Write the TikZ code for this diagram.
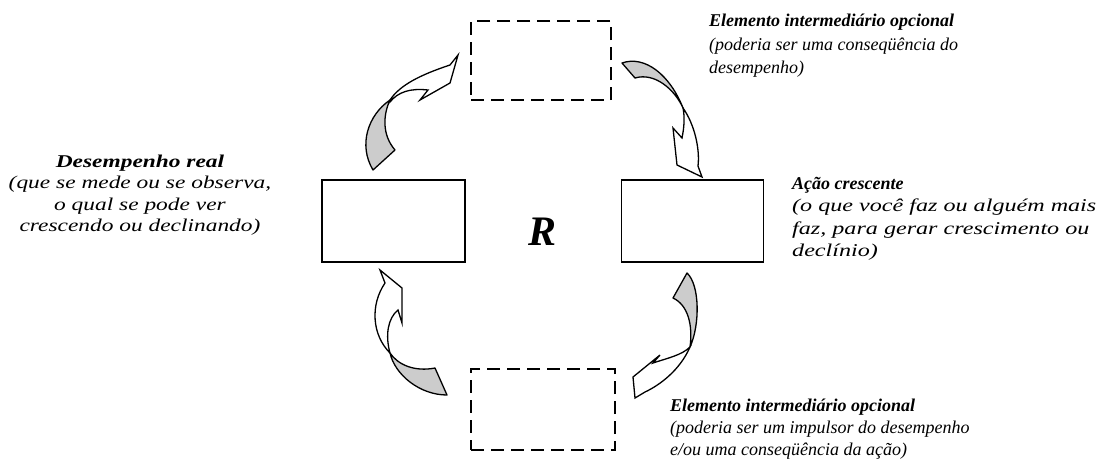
\documentclass[tikz,border=0pt]{standalone}
\usepackage{fontspec}
\setmainfont{Liberation Serif}
\newcommand{\widen}[1]{\scalebox{1.3}[1]{#1}}
\newcommand{\widenmore}[1]{\scalebox{1.34}[1]{#1}}
\begin{document}
\begin{tikzpicture}[x=1pt,y=-1pt,
  solidbox/.style={draw=black, line width=1.5pt, inner sep=0pt},
  dashbox/.style={draw=black, line width=2pt, dash pattern=on 13pt off 7pt, inner sep=0pt},
  arrowback/.style={fill=black!20, draw=black, line width=1.3pt, line join=round},
  arrowfront/.style={fill=white, draw=black, line width=1.3pt, line join=miter},
  caption/.style={inner sep=0pt, font=\itshape},
]
\useasboundingbox (0,0) rectangle (1101,469);

% boxes of the loop
\node[solidbox, minimum width=143pt, minimum height=82pt] (perf) at (393.5,221) {};
\node[solidbox, minimum width=142pt, minimum height=82pt] (action) at (692.5,221) {};
\node[dashbox, minimum width=140pt, minimum height=79pt] (midtop) at (541,60.5) {};
\node[dashbox, minimum width=144pt, minimum height=81pt] (midbot) at (543,409.5) {};

% loop label
\node[font=\fontsize{42}{42}\selectfont\bfseries\itshape, inner sep=0pt, anchor=base] (loop) at (543,245) {R};

% curved arrows: grey back face first, then the white front face
% performance -> upper element
\path[arrowback] (373,170) .. controls (358,145) and (368,115) .. (390,100) .. controls (383,115) and (382,135) .. (395,150) -- cycle;
\path[arrowfront] (390,100) .. controls (400,85) and (420,75) .. (450,65) -- (458,55) -- (450,83) -- (420,100) -- (428,90) .. controls (410,88) and (398,92) .. (390,102) -- cycle;
% upper element -> action
\path[arrowback] (622,63) .. controls (645,55) and (670,75) .. (683,108) .. controls (675,90) and (655,72) .. (635,78) -- cycle;
\path[arrowfront] (683,108) .. controls (695,125) and (700,150) .. (698,166) -- (702,177) -- (677,165) -- (673,128) -- (682,138) .. controls (684,128) and (685,118) .. (683,108) -- cycle;
% action -> lower element
\path[arrowback] (687,273) .. controls (700,285) and (700,325) .. (690,347) .. controls (693,325) and (688,305) .. (673,298) -- cycle;
\path[arrowfront] (690,347) .. controls (680,370) and (660,385) .. (645,392) -- (635,398) -- (633,377) -- (660,355) -- (653,363) .. controls (668,358) and (682,355) .. (690,347) -- cycle;
% lower element -> performance
\path[arrowback] (435,368) .. controls (415,372) and (398,365) .. (390,353) .. controls (395,375) and (420,395) .. (447,395) -- cycle;
\path[arrowfront] (390,353) .. controls (372,335) and (370,305) .. (385,283) -- (380,270) -- (402,288) -- (402,323) -- (398,310) .. controls (388,318) and (385,335) .. (390,353) -- cycle;

% captions
\node[caption, anchor=north, align=center, font=\fontsize{18}{21.5}\selectfont\itshape] (perftext) at (140,152)
  {\strut\widen{\textbf{Desempenho real}}\\\widen{(que se mede ou se observa,}\\\widen{o qual se pode ver}\\\widen{crescendo ou declinando)}};
\node[caption, anchor=north west, align=left, font=\fontsize{18}{22.5}\selectfont\itshape] (actiontext) at (792,173.25)
  {\strut\textbf{Ação crescente}\\\widenmore{(o que você faz ou alguém mais}\\\widenmore{faz, para gerar crescimento ou}\\\widenmore{declínio)}};
\node[caption, anchor=north west, align=left, font=\fontsize{18}{23.5}\selectfont\itshape] (midtoptext) at (709,10)
  {\strut\textbf{Elemento intermediário opcional}\\(poderia ser uma conseqüência do\\desempenho)};
\node[caption, anchor=north west, align=left, font=\fontsize{18}{22}\selectfont\itshape] (midbottext) at (670,395.6)
  {\strut\textbf{Elemento intermediário opcional}\\(poderia ser um impulsor do desempenho\\e/ou uma conseqüência da ação)};
\end{tikzpicture}
\end{document}
